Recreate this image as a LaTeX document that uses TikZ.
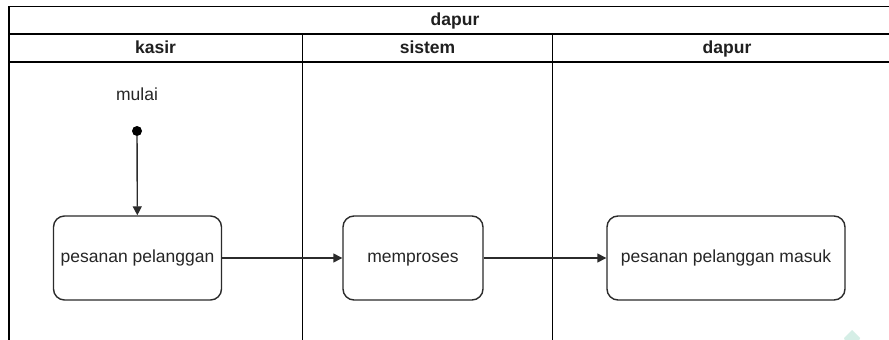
\documentclass[tikz,border=0pt]{standalone}
\usepackage{fontspec}
\setmainfont{Liberation Sans}
\usetikzlibrary{arrows.meta}
\definecolor{edge}{HTML}{2B2B2B}
\definecolor{mint}{HTML}{D5EEE6}
\tikzset{
  lane/.style={draw=black, line width=1.5pt},
  hdr/.style={font=\fontsize{17.5}{20}\selectfont\bfseries, text=black!88, anchor=center,
    text height=12.5pt, text depth=3.5pt},
  act/.style={draw=edge, line width=1.4pt, rounded corners=11pt, minimum width=168pt, minimum height=84pt,
    font=\fontsize{17.5}{20}\selectfont, text=black!85, text height=12.5pt, text depth=3.5pt},
  flow/.style={draw=edge, line width=1.4pt, -{Triangle[length=9pt,width=9pt]}},
  lbl/.style={font=\fontsize{17.5}{20}\selectfont, text=black!85, text height=12.5pt, text depth=3.5pt}
}
\begin{document}
\begin{tikzpicture}[x=1pt,y=-1pt]
  \useasboundingbox (0,0) rectangle (889,340);
  \fill[white] (0,0) rectangle (889,340);
  % swimlane pool
  \draw[lane] (9,346) -- (9,6.5) -- (905,6.5);
  \draw[lane] (9,34) -- (905,34);
  \draw[lane] (9,62) -- (905,62);
  \draw[lane] (302.5,34) -- (302.5,346);
  \draw[lane] (552.5,34) -- (552.5,346);
  % headers
  \node[hdr] (pool) at (455,21) {dapur};
  \node[hdr] (hk) at (155.5,48.5) {kasir};
  \node[hdr] (hs) at (427.5,48.5) {sistem};
  \node[hdr] (hd) at (727,48.5) {dapur};
  % start
  \node[lbl] (mulai) at (137,96) {mulai};
  \node[circle, fill=black, inner sep=0pt, minimum size=10pt] (start) at (137,131) {};
  % activities
  \node[act] (p1) at (137.5,258) {pesanan pelanggan};
  \node[act, minimum width=140pt] (p2) at (413,258) {memproses};
  \node[act, minimum width=238pt] (p3) at (726,258) {pesanan pelanggan masuk};
  % flows
  \draw[flow] (start) -- (p1);
  \draw[flow] (p1) -- (p2);
  \draw[flow] (p2) -- (p3);
  % corner mark
  \fill[mint] (844,338) -- (852,330) -- (860,338) -- (858,344) -- (846,344) -- cycle;
\end{tikzpicture}
\end{document}
